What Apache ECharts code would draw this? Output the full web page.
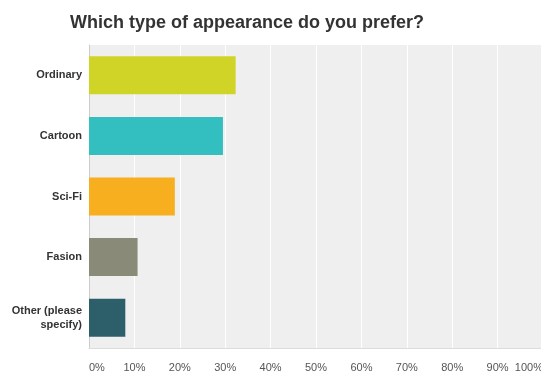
<!DOCTYPE html>
<html lang="en">
<head>
    <meta charset="UTF-8">
    <title>Which type of appearance do you prefer?</title>
    <script src="https://cdn.jsdelivr.net/npm/echarts@6/dist/echarts.min.js"></script>
    <style>
        html, body { margin: 0; padding: 0; background: #fff; }
        #charts { width: 541px; height: 374px; }
    </style>
</head>
<body>
<div id="charts"></div>
<script>
    var categories = ['Ordinary', 'Cartoon', 'Sci-Fi', 'Fasion', 'Other (please\nspecify)'];
    var values = [32.3, 29.5, 18.9, 10.7, 8.0];
    var colors = ['#d0d427', '#33bfc0', '#f7ae1f', '#8a8a78', '#2d5f6b'];
    var tickLabels = ['0%', '10%', '20%', '30%', '40%', '50%', '60%', '70%', '80%', '90%', '100%'];

    var myChart = echarts.init(document.getElementById('charts'));

    var option = {
        animation: false,
        title: {
            text: 'Which type of appearance do you prefer?',
            left: 65,
            top: 9,
            textStyle: {
                fontFamily: 'Liberation Sans, Arial',
                fontSize: 18,
                fontWeight: 'bold',
                color: '#333'
            }
        },
        grid: {
            left: 89,
            right: -2,
            top: 45,
            bottom: 26,
            outerBoundsMode: 'none',
            show: true,
            backgroundColor: '#efefef',
            borderWidth: 0
        },
        xAxis: {
            type: 'value',
            min: 0,
            max: 100,
            interval: 10,
            axisLine: { show: true, lineStyle: { color: '#dcdcdc', width: 1 } },
            axisTick: { show: false },
            splitLine: { show: true, lineStyle: { color: '#ffffff', width: 1 } },
            axisLabel: {
                margin: 14,
                fontFamily: 'Liberation Sans, Arial',
                fontSize: 11,
                color: '#555',
                alignMinLabel: 'left',
                alignMaxLabel: 'right',
                formatter: function (v) { return tickLabels[Math.round(v / 10)]; }
            }
        },
        yAxis: {
            type: 'category',
            inverse: true,
            data: categories,
            axisLine: { show: true, lineStyle: { color: '#cccccc', width: 1 } },
            axisTick: { show: false },
            axisLabel: {
                margin: 7,
                fontFamily: 'Liberation Sans, Arial',
                fontSize: 11,
                fontWeight: 'bold',
                color: '#333',
                lineHeight: 14
            }
        },
        series: [{
            type: 'bar',
            barWidth: 38,
            data: values.map(function (v, i) {
                return { value: v, itemStyle: { color: colors[i] } };
            })
        }]
    };
    myChart.setOption(option);
</script>
</body>
</html>
